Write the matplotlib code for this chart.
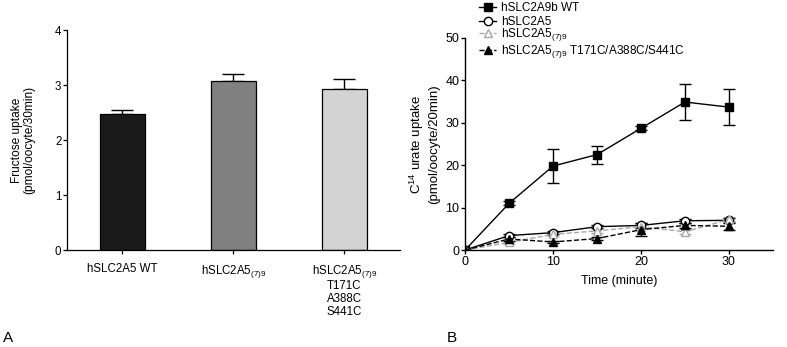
import numpy as np
import matplotlib
matplotlib.use("Agg")
import matplotlib.pyplot as plt

plt.rcParams["font.family"] = ["Liberation Sans", "DejaVu Sans"]
plt.rcParams["mathtext.fontset"] = "custom"
plt.rcParams["mathtext.rm"] = "Liberation Sans"
plt.rcParams["mathtext.it"] = "Liberation Sans:italic"
plt.rcParams["mathtext.default"] = "regular"

# ── Panel A data ──────────────────────────────────────────────
bar_labels = ["hSLC2A5 WT", "hSLC2A5$_{(7)9}$",
              "hSLC2A5$_{(7)9}$\nT171C\nA388C\nS441C"]
bar_values = [2.47, 3.08, 2.92]
bar_errors = [0.07, 0.12, 0.19]
bar_colors = ["#1a1a1a", "#808080", "#d3d3d3"]

# ── Panel B data ──────────────────────────────────────────────
time_min = [0, 5, 10, 15, 20, 25, 30]
wt_vals = [0, 11.0, 19.8, 22.5, 28.7, 34.9, 33.7]
wt_err = [0, 0.5, 4.0, 2.1, 0.5, 4.3, 4.3]
a5_vals = [0, 3.4, 4.1, 5.5, 5.8, 6.9, 7.0]
a5_err = [0, 0.3, 0.4, 0.4, 0.6, 0.5, 0.5]
a579_vals = [0, 1.8, 3.7, 4.5, 5.5, 4.3, 7.2]
a579_err = [0, 0.4, 0.5, 0.5, 0.6, 0.5, 0.6]
mut_vals = [0, 2.6, 1.9, 2.7, 4.8, 5.8, 5.6]
mut_err = [0, 0.4, 0.3, 0.3, 1.5, 0.6, 0.8]

fig = plt.figure(figsize=(7.87, 3.47), dpi=100)

# ── Panel A ───────────────────────────────────────────────────
ax1 = fig.add_axes([0.0851, 0.2795, 0.423, 0.634])
x = np.arange(len(bar_values))
ax1.bar(x, bar_values, width=0.4, color=bar_colors, edgecolor="black",
        linewidth=0.9, zorder=2)
ax1.errorbar(x, bar_values, yerr=[np.zeros(3), bar_errors], fmt="none",
             ecolor="black", elinewidth=1.0, capsize=8, capthick=1.0, zorder=1)
ax1.set_xlim(-0.5, 2.5)
ax1.set_ylim(0, 4)
ax1.set_yticks([0, 1, 2, 3, 4])
ax1.set_xticks(x)
ax1.set_xticklabels(bar_labels, fontsize=8.3, linespacing=1.1)
ax1.tick_params(axis="y", labelsize=8.3, length=3, width=0.9, pad=1)
ax1.tick_params(axis="x", length=3, width=0.9, pad=6)
ax1.set_ylabel("Fructose uptake\n(pmol/oocyte/30min)", fontsize=8.6,
               labelpad=14, linespacing=1.05)
ax1.spines["top"].set_visible(False)
ax1.spines["right"].set_visible(False)
for s in ["left", "bottom"]:
    ax1.spines[s].set_linewidth(0.9)

# ── Panel B ───────────────────────────────────────────────────
ax2 = fig.add_axes([0.591, 0.2795, 0.391, 0.611])
kw = dict(capsize=4, elinewidth=1.0, capthick=1.0, linewidth=1.0)
h1 = ax2.errorbar(time_min, wt_vals, yerr=wt_err, color="black", marker="s",
                  markersize=6, linestyle="-", label="hSLC2A9b WT", **kw)
h2 = ax2.errorbar(time_min, a5_vals, yerr=a5_err, color="black", marker="o",
                  markersize=6, markerfacecolor="white", linestyle="-",
                  label="hSLC2A5", **kw)
h3 = ax2.errorbar(time_min, a579_vals, yerr=a579_err, color="#a8a8a8",
                  marker="^", markersize=6, markerfacecolor="white",
                  linestyle="--", label="hSLC2A5$_{(7)9}$", **kw)
h4 = ax2.errorbar(time_min, mut_vals, yerr=mut_err, color="black", marker="^",
                  markersize=6, linestyle="--",
                  label="hSLC2A5$_{(7)9}$ T171C/A388C/S441C", **kw)
ax2.set_xlim(0, 35)
ax2.set_ylim(0, 50)
ax2.set_xticks([0, 10, 20, 30])
ax2.set_yticks([0, 10, 20, 30, 40, 50])
ax2.tick_params(labelsize=9, length=3, width=1.0, pad=1)
ax2.set_xlabel("Time (minute)", fontsize=9, labelpad=5)
ax2.set_ylabel("C$^{14}$ urate uptake\n(pmol/oocyte/20min)", fontsize=9.5,
               labelpad=4)
ax2.spines["top"].set_visible(False)
ax2.spines["right"].set_visible(False)
for s in ["left", "bottom"]:
    ax2.spines[s].set_linewidth(1.0)

# one legend per row so the rows are evenly spaced like the original
legend_rows = [8, 22, 35, 51.5]   # row centres, pixels from the top
for h, row in zip([h1, h2, h3, h4], legend_rows):
    fig.legend(handles=[h[0]], labels=[h.get_label()], loc="center left",
               bbox_to_anchor=(0.609, 1 - row / 347), frameon=False,
               fontsize=8.5, handlelength=1.4, handletextpad=0.45,
               borderpad=0.0, borderaxespad=0.0)

fig.text(0.004, 0.015, "A", fontsize=11)
fig.text(0.568, 0.015, "B", fontsize=11)

fig.savefig("out.png", dpi=100)
